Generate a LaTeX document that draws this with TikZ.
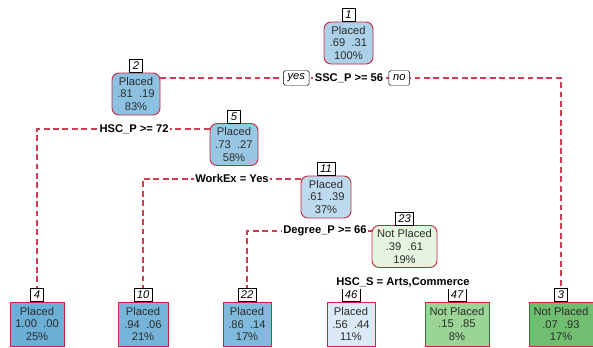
\documentclass[tikz,border=0pt]{standalone}
\usepackage{fontspec}
\setmainfont{Liberation Sans}
\usetikzlibrary{positioning}
\definecolor{treered}{RGB}{200,40,62}
\definecolor{branchred}{RGB}{208,60,82}
\definecolor{treetext}{RGB}{45,45,45}
\definecolor{placedA}{RGB}{107,174,214}
\definecolor{placedB}{RGB}{118,180,217}
\definecolor{placedC}{RGB}{128,186,221}
\definecolor{placedD}{RGB}{140,193,225}
\definecolor{placedE}{RGB}{152,199,228}
\definecolor{placedF}{RGB}{172,209,233}
\definecolor{placedG}{RGB}{190,218,238}
\definecolor{placedH}{RGB}{220,233,246}
\definecolor{notpA}{RGB}{228,244,222}
\definecolor{notpB}{RGB}{155,213,150}
\definecolor{notpC}{RGB}{112,190,112}
\newcommand\upx{0.85pt}

\begin{document}
\begin{tikzpicture}[x=0.85pt,y=-0.85pt]
\tikzstyle{inner}=[draw=treered,line width=0.8pt,rounded corners=6pt,align=center,text=treetext,font=\fontsize{9.5}{11}\selectfont,minimum height=42*\upx,inner sep=1pt]
\tikzstyle{leaf}=[draw=treered,line width=0.8pt,align=center,text=treetext,font=\fontsize{9.5}{11}\selectfont,minimum height=44*\upx,inner sep=1pt]
\tikzstyle{numbox}=[draw=black,fill=white,font=\fontsize{9.5}{10}\selectfont\itshape,inner xsep=2.5pt,inner ysep=0pt,minimum height=13*\upx,minimum width=13*\upx]
\tikzstyle{branch}=[draw=branchred,line width=0.9pt,dash pattern=on 5pt off 3pt]
\tikzstyle{splitlab}=[fill=white,font=\fontsize{9.5}{10}\selectfont\bfseries,inner sep=1.5pt]
\tikzstyle{yesno}=[draw=black,fill=white,rounded corners=1.5pt,font=\fontsize{9.5}{10}\selectfont\itshape,inner xsep=3.5pt,inner ysep=0pt,minimum height=15*\upx]
\useasboundingbox (0,0) rectangle (593,347);
% inner nodes
\node[inner,fill=placedF,minimum width=49*\upx] (n1) at (348.5,43) {Placed\\.69~~.31\\100\%};
\node[inner,fill=placedD,minimum width=48*\upx] (n2) at (136,94) {Placed\\.81~~.19\\83\%};
\node[inner,fill=placedE,minimum width=48*\upx] (n5) at (234,144.5) {Placed\\.73~~.27\\58\%};
\node[inner,fill=placedG,minimum width=50*\upx] (n11) at (326,197) {Placed\\.61~~.39\\37\%};
\node[inner,fill=notpA,minimum width=65*\upx] (n23) at (404.5,246.5) {Not Placed\\.39~~.61\\19\%};
% leaves
\node[leaf,fill=placedA,minimum width=54*\upx] (n4) at (37,324) {Placed\\1.00~~.00\\25\%};
\node[leaf,fill=placedB,minimum width=50*\upx] (n10) at (143,324) {Placed\\.94~~.06\\21\%};
\node[leaf,fill=placedC,minimum width=48*\upx] (n22) at (247,324) {Placed\\.86~~.14\\17\%};
\node[leaf,fill=placedH,minimum width=48*\upx] (n46) at (351,324) {Placed\\.56~~.44\\11\%};
\node[leaf,fill=notpB,minimum width=64*\upx] (n47) at (457,324) {Not Placed\\.15~~.85\\8\%};
\node[leaf,fill=notpC,minimum width=64*\upx] (n3) at (561,324) {Not Placed\\.07~~.93\\17\%};
% node numbers
\node[numbox,above=0pt of n1] (k1) {1};
\node[numbox,above=0pt of n2] (k2) {2};
\node[numbox,above=0pt of n5] (k5) {5};
\node[numbox,above=0pt of n11] (k11) {11};
\node[numbox,above=0pt of n23] (k23) {23};
\node[numbox,above=0pt of n4] (k4) {4};
\node[numbox,above=0pt of n10] (k10) {10};
\node[numbox,above=0pt of n22] (k22) {22};
\node[numbox,above=0pt of n46] (k46) {46};
\node[numbox,above=0pt of n47] (k47) {47};
\node[numbox,above=0pt of n3] (k3) {3};
% splits
\coordinate (s1) at (349,78);
\coordinate (s2) at (134,129);
\coordinate (s3) at (232,179);
\coordinate (s4) at (325,231);
\draw[branch] (n2.east |- s1) -- (s1 -| k3) -- (k3.north);
\draw[branch] (n5.west |- s2) -- (s2 -| k4) -- (k4.north);
\draw[branch] (n11.west |- s3) -- (s3 -| k10) -- (k10.north);
\draw[branch] (n23.west |- s4) -- (s4 -| k22) -- (k22.north);
\node[splitlab] (l1) at (s1) {SSC\_P >= 56};
\node[yesno,left=3pt of l1] (yes) {yes};
\node[yesno,right=3pt of l1] (no) {no};
\node[splitlab] (l2) at (s2) {HSC\_P >= 72};
\node[splitlab] (l3) at (s3) {WorkEx = Yes};
\node[splitlab] (l4) at (s4) {Degree\_P >= 66};
\node[splitlab] (l5) at (403,282) {HSC\_S = Arts,Commerce};
\end{tikzpicture}
\end{document}
